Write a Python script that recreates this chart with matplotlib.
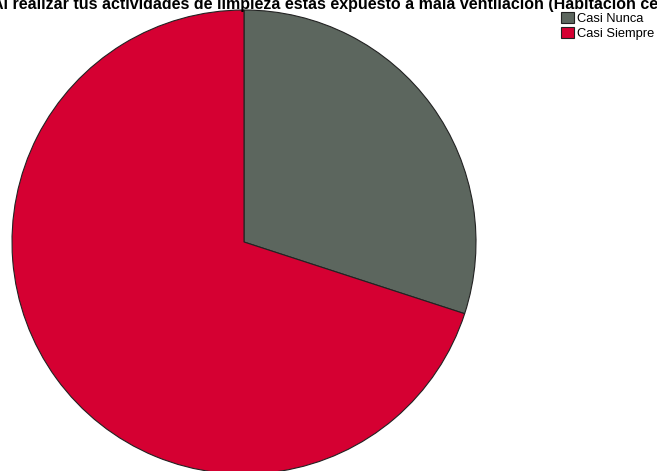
import matplotlib.pyplot as plt
from matplotlib.patches import Patch

plt.rcParams['font.family'] = ['Liberation Sans', 'DejaVu Sans']

labels = ['Casi Nunca', 'Casi Siempre']
values = [30, 70]
colors = ['#5c665e', '#d50032']
title = 'Al realizar tus actividades de limpieza estas expuesto a mala ventilación (Habitación cerrada)?'

W, H = 657, 471
fig = plt.figure(figsize=(W / 100, H / 100), dpi=100)

cx, cy, r = 244, 242, 232
ax = fig.add_axes([(cx - r) / W, (H - cy - r) / H, 2 * r / W, 2 * r / H])
wedges, _ = ax.pie(values, colors=colors, startangle=90, counterclock=False,
                   radius=1, wedgeprops=dict(edgecolor='#222222', linewidth=0.8))
for w in wedges:
    w.set_clip_on(False)
ax.set_xlim(-1, 1)
ax.set_ylim(-1, 1)
ax.set_aspect('equal')
ax.axis('off')

# title is wider than the canvas in the original, so it gets cut at both sides
fig.text(353 / W, 1 - 4 / H, title, ha='center', va='center',
         fontsize=11.5, fontweight='bold')

handles = [Patch(facecolor=c, edgecolor='#222222', linewidth=0.8) for c in colors]
fig.legend(handles, labels, loc='upper left', bbox_to_anchor=(560 / W, 1 - 11 / H),
           frameon=False, fontsize=9.3, handlelength=0.95, handleheight=0.95,
           handletextpad=0.25, labelspacing=0.12, borderaxespad=0, borderpad=0.1)

fig.savefig('out.png', dpi=100)
